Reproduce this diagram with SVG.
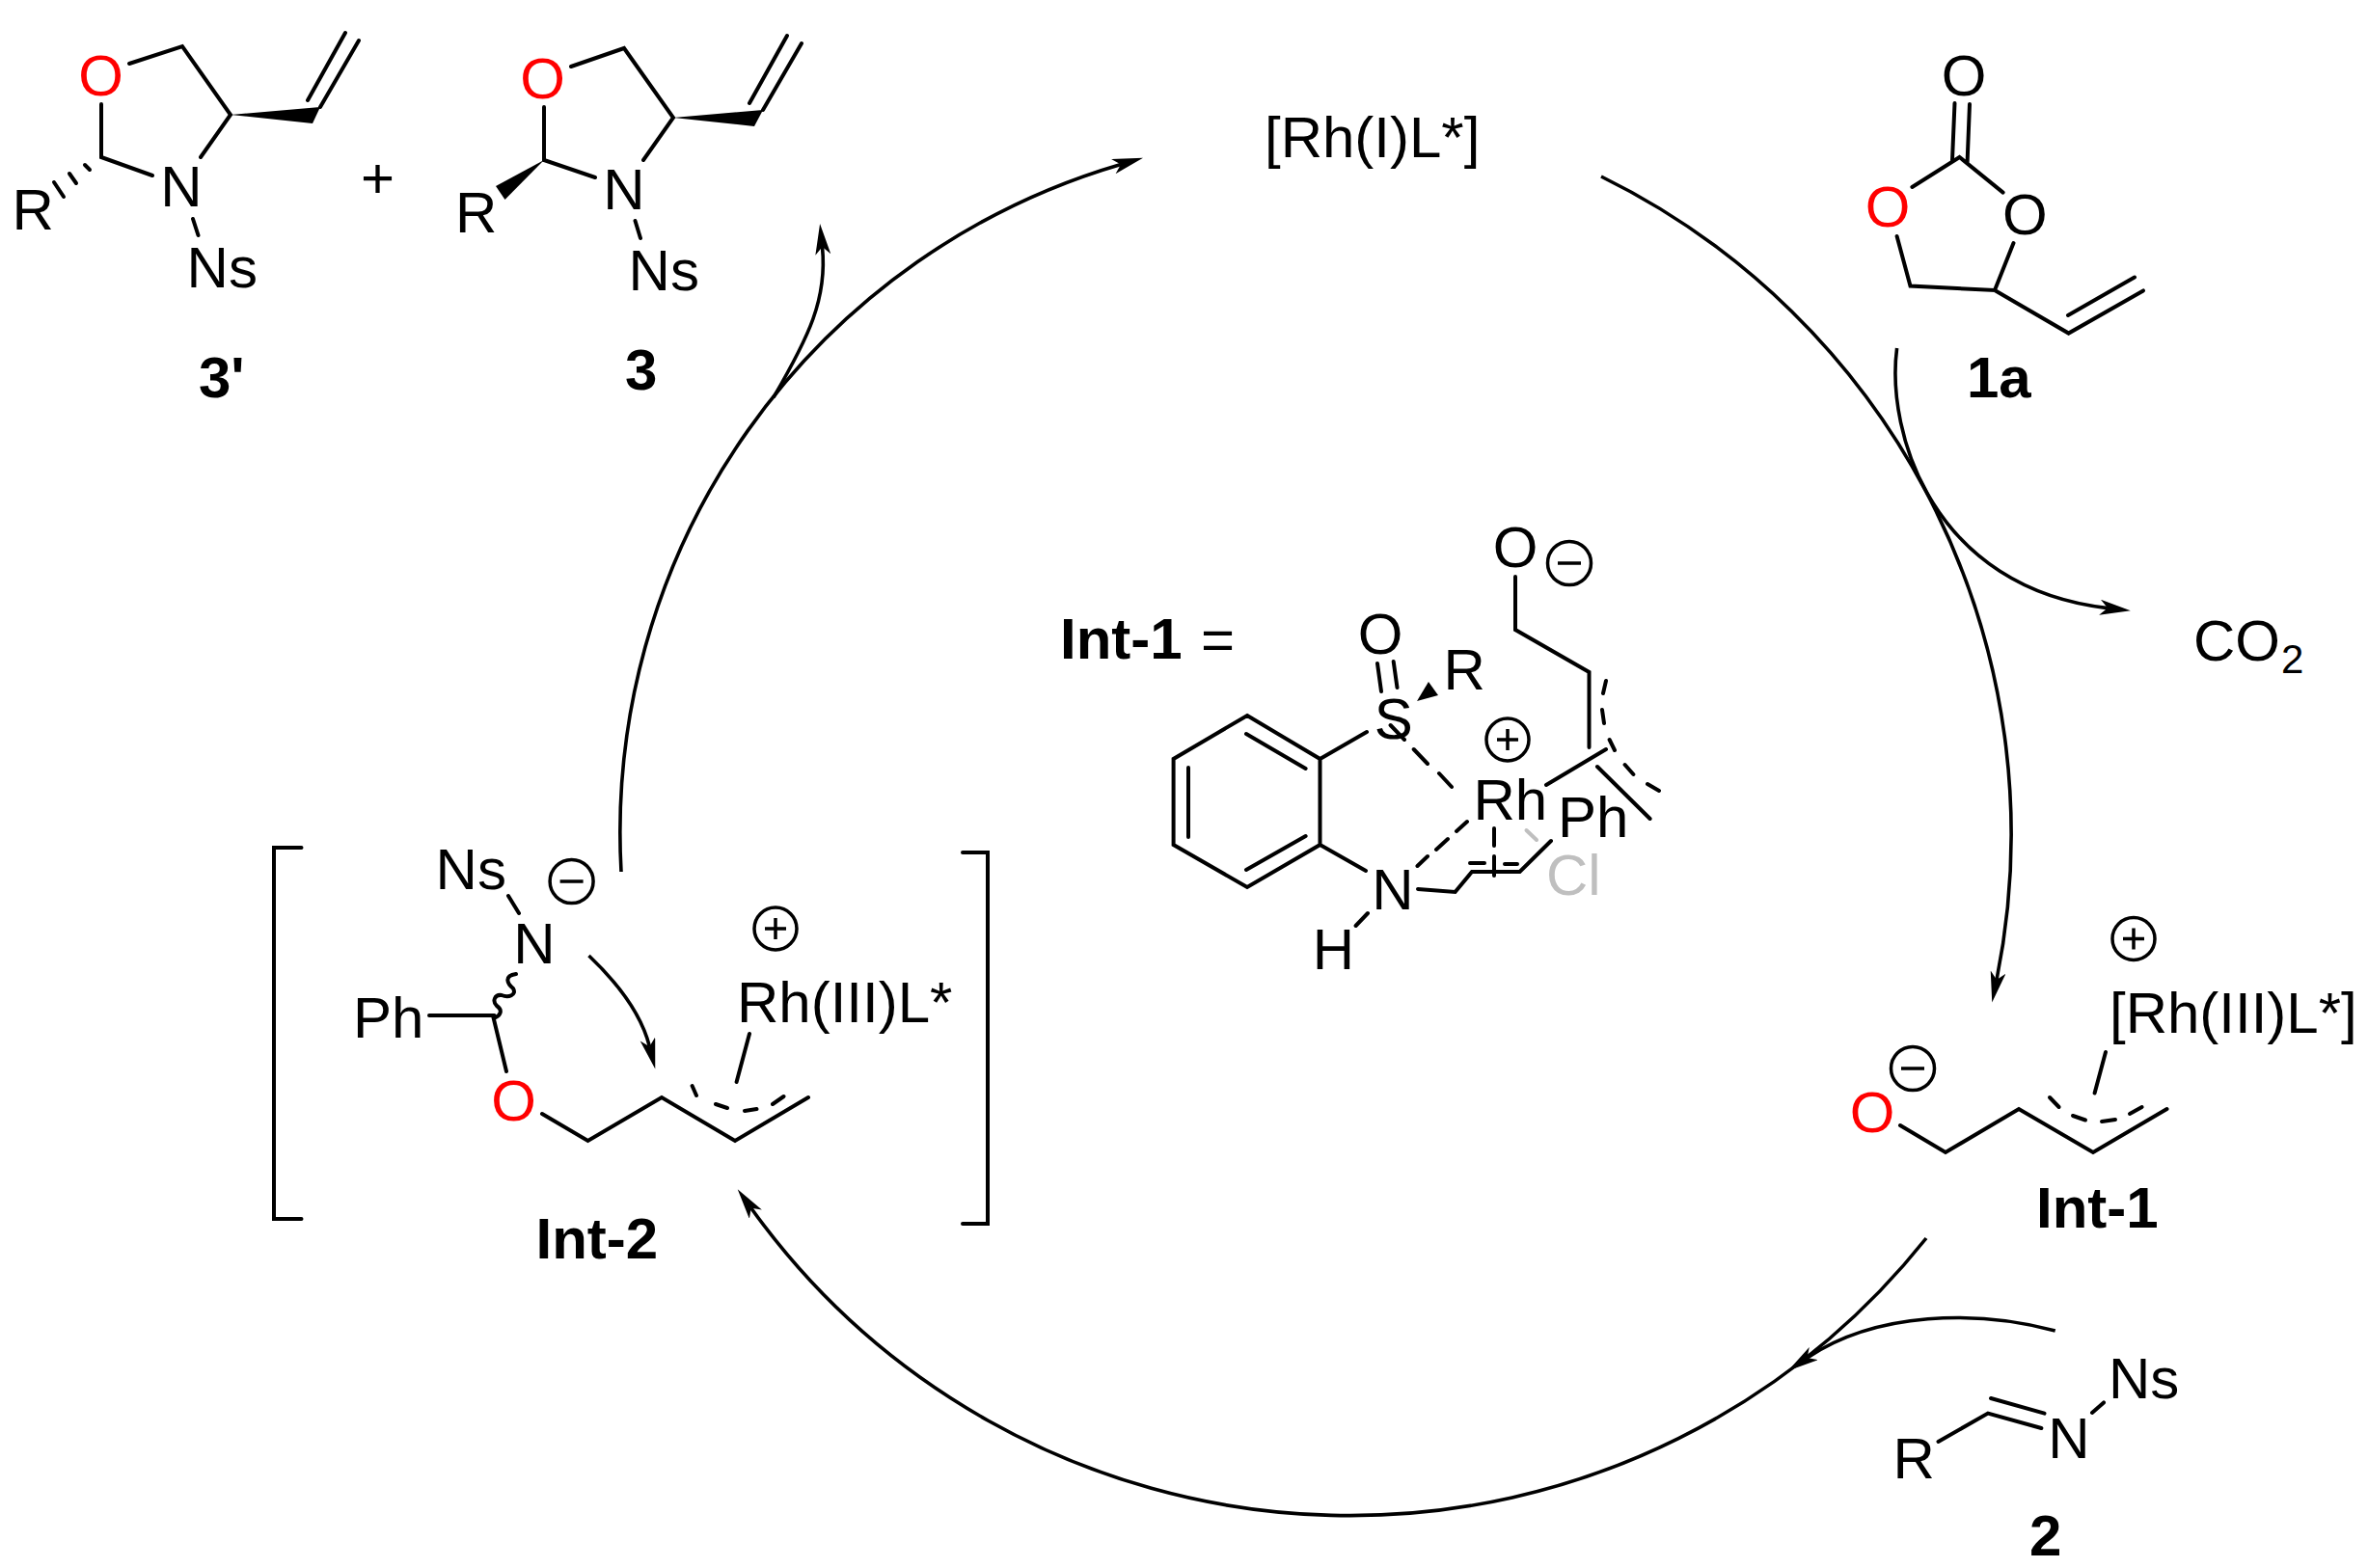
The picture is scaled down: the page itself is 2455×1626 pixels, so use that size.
<svg xmlns="http://www.w3.org/2000/svg" width="2455" height="1626" viewBox="0 0 2455 1626">
<style>
text{font-family:"Liberation Sans",Arial,sans-serif;font-size:60px;fill:#000}
.b{font-weight:bold}
.m{text-anchor:middle}
.r{fill:#f00}
.g{fill:#bfbfbf}
.sub{font-size:42px}
path{fill:none;stroke:#000;stroke-width:4;stroke-linecap:round;stroke-linejoin:miter}
.gs{stroke:#bfbfbf}
.w{fill:#000;stroke:none}
circle{fill:none;stroke:#000;stroke-width:3.5}
.arc{stroke-width:3.6;stroke-linecap:butt}
.arw{marker-end:url(#ah)}
</style>
<defs>
<marker id="ah" markerUnits="userSpaceOnUse" markerWidth="34" markerHeight="18" refX="8" refY="8" orient="auto"><path d="M0 0L32 8L0 16L8 8Z" style="fill:#000;stroke:none"/></marker>
<g id="plus"><circle r="22"/><path d="M-11 0H11M0-11V11" style="stroke-width:3.5;stroke-linecap:butt"/></g>
<g id="minus"><circle r="22.5"/><path d="M-12 0H12" style="stroke-width:3.5;stroke-linecap:butt"/></g>
</defs>
<g id="connectors">
<path class="arc arw" d="M644 904A722 722 0 0 1 1162 170.4"/>
<path class="arc arw" d="M1660 183A760 760 0 0 1 2070 1016"/>
<path class="arc arw" d="M1997 1284A764 764 0 0 1 778.7 1252.7"/>
<path class="arc arw" d="M1966.6 361C1955 450 2005 610 2185 630.6"/>
<path class="arc arw" d="M2130.7 1380C2050 1358 1945 1360 1873.6 1408"/>
<path class="arc arw" d="M802 412C838 350 858 310 852.5 256"/>
<path class="arc arw" d="M610.5 991Q662 1040 673.4 1085.2"/>
</g>
<g id="cpd-3prime">
<text class="m r" x="104.5" y="98.5">O</text><text class="m" x="188" y="214">N</text><text x="12.5" y="238">R</text><text x="193.6" y="298">Ns</text>
<path d="M105 108V163L158 182M208 163L239 119L189 48L134 66M200 227L205.5 244M332 111L372 42M319 104L358 34"/>
<path d="M88 171L93 176M72 180L79 190M56 189L66 204"/>
<polygon class="w" points="239,119 332,111 324,128"/>
<text class="b" x="206" y="412">3'</text>
</g>
<g id="plus-sign"><text class="m" x="391.5" y="205">+</text></g>
<g id="cpd-3">
<text class="m r" x="562.6" y="101.5">O</text><text class="m" x="647" y="217">N</text><text x="472" y="241">R</text><text x="651.6" y="301">Ns</text>
<path d="M564 111V166L617 184M667 166L698 122L647 50L592 69M658.5 229L664 247M791 114L831 45M777 107L816 37"/>
<polygon class="w" points="698,122 791,114 782,131"/>
<polygon class="w" points="564,166 514,193 523.5,207"/>
<text class="b" x="648" y="404">3</text>
</g>
<g id="rh-cat"><text x="1311" y="163">[Rh(I)L*]</text></g>
<g id="cpd-1a">
<text class="m" x="2036" y="99">O</text><text class="m r" x="1957" y="235">O</text><text class="m" x="2099.4" y="243">O</text>
<path d="M2026.5 107L2024 166M2042 108L2039.6 168M1982.4 194L2031.5 163L2076.6 199.6M1966.6 245L1980.5 296.5L2068 301L2087.5 252M2068 301L2144.6 345.6L2222 301.4M2144 327L2213 287.6"/>
<text class="b" x="2039" y="412">1a</text>
</g>
<g id="co2"><text x="2274" y="685">CO</text><text class="sub" x="2365" y="698">2</text></g>
<g id="int-1">
<use href="#plus" x="2212" y="973.5"/><use href="#minus" x="1983" y="1108"/>
<text x="2187" y="1071">[Rh(III)L*]</text><text class="m r" x="1941" y="1174">O</text>
<path d="M2183 1091L2171.6 1133.5M1970 1167L2017 1195L2093 1150L2170 1195L2246.5 1150"/>
<path d="M2125 1138L2134.6 1148M2149 1157L2162 1161.5M2179 1163L2193 1161M2208 1155L2220.6 1148"/>
<text class="b" x="2111" y="1273">Int-1</text>
</g>
<g id="cpd-2">
<text x="1962.4" y="1533">R</text><text class="m" x="2145" y="1512">N</text><text x="2186" y="1450">Ns</text>
<path d="M2009.5 1495L2061 1465.6L2116.4 1481M2064 1450L2119.5 1465.6M2169 1465L2181 1454.4"/>
<text class="b" x="2104" y="1613">2</text>
</g>
<g id="int-2">
<path d="M312.5 879H284V1264H312.5M998 884H1024V1269H998"/>
<text x="451.6" y="922">Ns</text><use href="#minus" x="592.6" y="914"/><text class="m" x="554" y="999">N</text>
<text x="366" y="1076">Ph</text><text class="m r" x="532.5" y="1162">O</text><text x="764" y="1060">Rh(III)L*</text><use href="#plus" x="804" y="963"/>
<path d="M527 929L538 947M445 1053H512.5M511 1053L525 1111M562 1155L609.5 1183L686 1138L762 1183L838 1138M777 1072L763.6 1122"/>
<path d="M535 1010C522 1012 526 1020 532 1025C536 1032 527 1035 520 1032C513 1031 510 1038 515 1043C522 1048 518 1053 514 1055"/>
<path d="M717.6 1126L722 1136M742 1145L754 1149M772 1152L784.5 1150M801 1145L812.5 1137"/>
<text class="b" x="555.5" y="1305">Int-2</text>
</g>
<g id="int-1-detail">
<text class="b" x="1099" y="683">Int-1</text><text x="1245" y="684">=</text>
<path d="M1293 742L1368.5 787V876L1293 920L1216.6 876V787ZM1292 761L1353.6 797M1232 796V868M1292 902L1353.6 867M1368.5 787L1417 759M1368.5 876L1416 903"/>
<text class="m" x="1444.7" y="766">S</text><text class="m" x="1431" y="678">O</text><text x="1496.4" y="715">R</text><text x="1527.4" y="850">Rh</text><text class="m" x="1444" y="943">N</text><text class="m" x="1382.5" y="1005">H</text><text x="1615" y="868">Ph</text><text class="g" x="1603" y="928">Cl</text><text class="m" x="1571" y="588">O</text>
<path d="M1432 717L1428 688M1448.5 713L1444.7 686M1441.6 752L1456 767M1465.7 777L1480 792M1492 802L1505 816M1521 852L1510 862M1501 870L1489 881M1480 888L1469.5 898M1418 947L1405.6 960M1470 922L1508.6 925L1526 904H1575.6L1608 872M1524 895H1539M1560 896H1573M1549 859V877M1549 888V908"/>
<path class="gs" d="M1582.5 861L1593 871"/>
<polygon class="w" points="1469,727 1481,707 1491,721"/>
<use href="#plus" x="1563" y="767"/><use href="#minus" x="1627" y="584"/>
<path d="M1571 598V653L1647.5 697V775M1603 814L1665 777M1656 795L1710.6 849M1665 706L1662 719M1661 736L1663 750M1668.6 767L1674 778M1684.6 793L1693.4 803M1708 813L1720 820"/>
</g>
</svg>
